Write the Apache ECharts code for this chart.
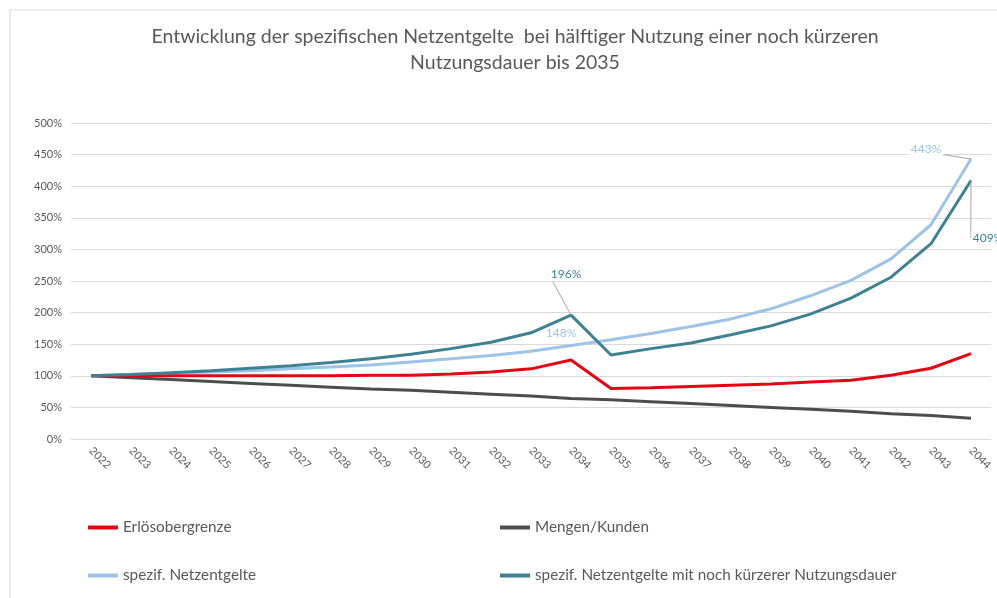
<!DOCTYPE html>
<html><head><meta charset="utf-8">
<script src="https://cdn.jsdelivr.net/npm/echarts@6/dist/echarts.min.js"></script>
<style>html,body{margin:0;padding:0;background:#fff}#c{width:997px;height:598px}</style>
</head><body><div id="c"></div>
<script>
const years = ['2022','2023','2024','2025','2026','2027','2028','2029','2030','2031','2032','2033','2034','2035','2036','2037','2038','2039','2040','2041','2042','2043','2044'];
const erloesobergrenze = [100,100,100,100,100,100,100,101,101,103,106,111,125,80,81,83,85,87,90,93,101,112,135];
const mengenKunden = [100,97,94,91,88,85,82,79,77,74,71,68,64,62,59,56,53,50,47,44,40,37,33];
const spezNetzentgelte = [100,102,104,106,108,111,114,117,122,127,132,139,148,157,167,178,190,206,227,251,285,339,443];
const spezKuerzer = [100,102,105,108,112,116,121,127,134,143,153,168,196,133,143,152,165,179,198,223,256,309,409];
const seriesNames = ['Erlösobergrenze','Mengen/Kunden','spezif. Netzentgelte','spezif. Netzentgelte mit noch kürzerer Nutzungsdauer'];
const colors = ['#E30613','#4D4D4D','#9DC3E6','#3F8193'];
const FONT = 'Lato, "Open Sans", sans-serif';

// labelled points: index -> [dx, dy, showLeaderLine]
const spezLabels = {12: [-10, -12, false], 22: [-45, -10, true]};
const kuerzerLabels = {12: [-5, -41, true], 22: [17, 58, true]};

function labelled(arr, map, color) {
  return arr.map((v, i) => map[i] ? {
    value: v,
    label: {show: true, position: 'inside', formatter: '{c}%', color: color, fontFamily: FONT, fontSize: 12,
      backgroundColor: '#fff', padding: [1, 2]},
    labelLine: {show: map[i][2], showAbove: false, lineStyle: {color: '#A6A6A6', width: 1}}
  } : v);
}
function layoutFor(map) {
  return function (p) { const m = map[p.dataIndex]; return m ? {dx: m[0], dy: m[1]} : {}; };
}

const chart = echarts.init(document.getElementById('c'));
const legendBase = {icon: 'rect', itemWidth: 30, itemHeight: 4, itemGap: 2,
  textStyle: {fontFamily: FONT, fontSize: 15.3, color: '#595959'}};
chart.setOption({
  backgroundColor: '#fff',
  animation: false,
  title: {text: 'Entwicklung der spezifischen Netzentgelte  bei hälftiger Nutzung einer noch kürzeren\nNutzungsdauer bis 2035',
    left: 510, textAlign: 'center', top: 19,
    textStyle: {fontFamily: FONT, fontSize: 19.5, fontWeight: 'normal', color: '#595959', lineHeight: 26}},
  graphic: [{type: 'rect', shape: {x: 10, y: 10, width: 1000, height: 600}, style: {fill: 'none', stroke: '#D9D9D9', lineWidth: 1}, silent: true}],
  legend: [
    Object.assign({}, legendBase, {data: [seriesNames[0]], left: 83, top: 515}),
    Object.assign({}, legendBase, {data: [seriesNames[1]], left: 495, top: 515}),
    Object.assign({}, legendBase, {data: [seriesNames[2]], left: 83, top: 563}),
    Object.assign({}, legendBase, {data: [seriesNames[3]], left: 495, top: 563})
  ],
  grid: {left: 71, right: 6, top: 123, bottom: 159, containLabel: false},
  xAxis: {type: 'category', data: years, boundaryGap: true,
    axisLine: {show: false}, axisTick: {show: false},
    axisLabel: {rotate: -45, fontFamily: FONT, fontSize: 11, color: '#595959', margin: 10, interval: 0}},
  yAxis: {type: 'value', min: 0, max: 500, interval: 50,
    axisLabel: {formatter: '{value}%', fontFamily: FONT, fontSize: 11, color: '#595959', margin: 9},
    splitLine: {lineStyle: {color: '#D9D9D9', width: 1}}},
  series: [
    {name: seriesNames[0], type: 'line', data: erloesobergrenze, symbol: 'none', lineStyle: {width: 3, color: colors[0]}, itemStyle: {color: colors[0]}, z: 4},
    {name: seriesNames[1], type: 'line', data: mengenKunden, symbol: 'none', lineStyle: {width: 3, color: colors[1]}, itemStyle: {color: colors[1]}, z: 3},
    {name: seriesNames[2], type: 'line', symbol: 'circle', symbolSize: 0, showSymbol: true,
      lineStyle: {width: 3, color: colors[2]}, itemStyle: {color: colors[2]}, z: 2,
      data: labelled(spezNetzentgelte, spezLabels, colors[2]),
      labelLayout: layoutFor(spezLabels)},
    {name: seriesNames[3], type: 'line', symbol: 'circle', symbolSize: 0, showSymbol: true,
      lineStyle: {width: 3, color: colors[3]}, itemStyle: {color: colors[3]}, z: 5,
      data: labelled(spezKuerzer, kuerzerLabels, colors[3]),
      labelLayout: layoutFor(kuerzerLabels)}
  ]
});
</script></body></html>
